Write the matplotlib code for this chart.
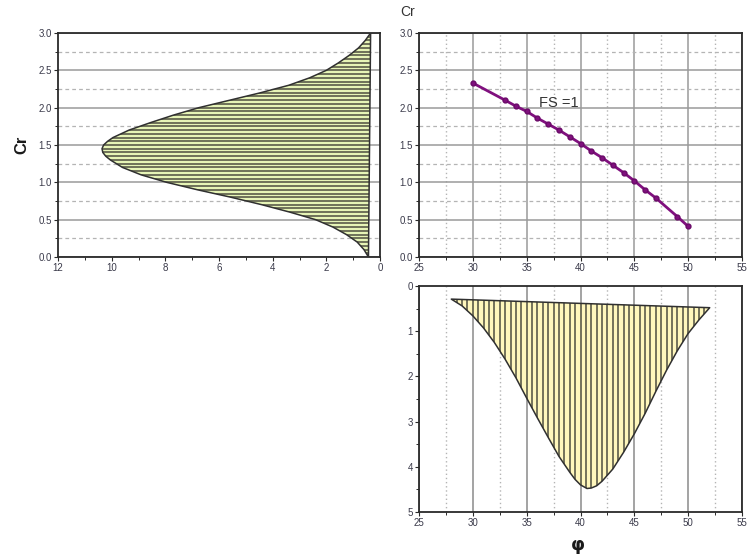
import numpy as np
import matplotlib
matplotlib.use("Agg")
import matplotlib.pyplot as plt
from matplotlib.patches import Polygon
from matplotlib.ticker import MultipleLocator, FormatStrFormatter

# ---- data ----
# Left panel: distribution of Cr (horizontal width vs. Cr)
cr_levels = [0.0, 0.1, 0.2, 0.3, 0.4, 0.5, 0.6, 0.7, 0.8, 0.9, 1.0, 1.1, 1.2,
             1.3, 1.35, 1.4, 1.45, 1.5, 1.55, 1.6, 1.7, 1.8, 1.9, 2.0, 2.1,
             2.2, 2.3, 2.4, 2.5, 2.6, 2.7, 2.8, 2.9, 3.0]
cr_density = [0.43, 0.6, 0.85, 1.25, 1.75, 2.4, 3.35, 4.4, 5.55, 6.8, 7.95,
              8.9, 9.6, 10.05, 10.22, 10.33, 10.36, 10.3, 10.15, 9.95, 9.35,
              8.55, 7.7, 6.75, 5.6, 4.45, 3.4, 2.62, 2.0, 1.55, 1.15, 0.8,
              0.55, 0.35]

# Top-right panel: FS = 1 curve, Cr vs. phi
phi_fs = [30, 33, 34, 35, 36, 37, 38, 39, 40, 41, 42, 43, 44, 45, 46, 47, 49, 50]
cr_fs = [2.33, 2.10, 2.02, 1.95, 1.86, 1.78, 1.70, 1.61, 1.52, 1.42, 1.33,
         1.23, 1.13, 1.02, 0.90, 0.79, 0.54, 0.41]
fs_label = "FS =1"

# Bottom-right panel: distribution of phi (depth vs. phi, axis downward)
phi_levels = [28.0, 29, 30, 31, 32, 33, 34, 35, 36, 37, 38, 39, 39.5, 40,
              40.6, 41, 41.5, 42, 43, 44, 45, 46, 47, 48, 49, 50, 51, 52]
phi_density = [0.29, 0.44, 0.66, 0.93, 1.25, 1.62, 2.03, 2.48, 2.92, 3.35,
               3.77, 4.12, 4.28, 4.40, 4.48, 4.47, 4.42, 4.32, 4.05, 3.68,
               3.27, 2.82, 2.33, 1.86, 1.43, 1.05, 0.75, 0.48]

# ---- styling ----
plt.rcParams['font.family'] = ['Liberation Sans', 'DejaVu Sans']
TICK_COLOR = '#3a3a4a'
SPINE_COLOR = '#2a2a2a'
MAJOR_GRID = '#9a9a9a'
MINOR_GRID = '#b4b4b4'
HATCH_COLOR = '#4e4e40'

fig = plt.figure(figsize=(7.55, 5.56), dpi=100)
fig.patch.set_facecolor('white')

W, H = 755.0, 556.0
def axes_px(x0, y0, x1, y1):
    return fig.add_axes([x0 / W, 1 - y1 / H, (x1 - x0) / W, (y1 - y0) / H])

ax_l = axes_px(58, 33, 380, 257)
ax_tr = axes_px(419, 33, 742, 257)
ax_br = axes_px(419, 286, 742, 512)

def style_axes(ax):
    for s in ax.spines.values():
        s.set_color(SPINE_COLOR)
        s.set_linewidth(1.3)
    ax.tick_params(which='major', direction='out', length=3, width=0.8,
                   colors=SPINE_COLOR, labelcolor=TICK_COLOR, labelsize=7,
                   pad=1.5)
    ax.tick_params(which='minor', direction='out', length=2, width=0.7,
                   colors=SPINE_COLOR)
    ax.set_axisbelow(True)

# ---- left panel ----
ax = ax_l
style_axes(ax)
ax.set_xlim(12, 0)
ax.set_ylim(0, 3)
ax.xaxis.set_major_locator(MultipleLocator(2))
ax.xaxis.set_minor_locator(MultipleLocator(1))
ax.yaxis.set_major_locator(MultipleLocator(0.5))
ax.yaxis.set_minor_locator(MultipleLocator(0.25))
ax.yaxis.set_major_formatter(FormatStrFormatter('%.1f'))
ax.grid(which='major', axis='y', color=MAJOR_GRID, lw=1.1, ls='-')
ax.grid(which='minor', axis='y', color=MINOR_GRID, lw=0.9, ls=(0, (3, 2.5)))
poly = Polygon(np.column_stack([cr_density, cr_levels]), closed=True,
               facecolor='#e6f4b6', edgecolor='none', zorder=2)
ax.add_patch(poly)
hl = ax.hlines(np.arange(0, 3.0001, 0.05), 0, 12, colors=HATCH_COLOR,
               lw=1.1, zorder=3)
hl.set_clip_path(poly)
ax.add_patch(Polygon(np.column_stack([cr_density, cr_levels]), closed=True,
                     fill=False, edgecolor='#303030', lw=1.1, zorder=4,
                     joinstyle='round'))
fig.text(22 / W, 1 - 145 / H, 'Cr', fontsize=12, fontweight='bold',
         rotation=90, ha='center', va='center', color='#1a1a1a')

# ---- top-right panel ----
ax = ax_tr
style_axes(ax)
ax.set_xlim(25, 55)
ax.set_ylim(0, 3)
ax.xaxis.set_major_locator(MultipleLocator(5))
ax.xaxis.set_minor_locator(MultipleLocator(2.5))
ax.yaxis.set_major_locator(MultipleLocator(0.5))
ax.yaxis.set_minor_locator(MultipleLocator(0.25))
ax.yaxis.set_major_formatter(FormatStrFormatter('%.1f'))
ax.grid(which='major', color=MAJOR_GRID, lw=1.1, ls='-')
ax.grid(which='minor', axis='y', color=MINOR_GRID, lw=0.9, ls=(0, (3, 2.5)))
ax.grid(which='minor', axis='x', color=MINOR_GRID, lw=1.0, ls=(0, (1, 2)))
ax.plot(phi_fs, cr_fs, color='#80107e', lw=2.0, marker='o', ms=3.5,
        mec='#6a0a68', mfc='#80107e', zorder=3)
ax.text(38.0, 2.06, fs_label, fontsize=10.5, color='#333333',
        ha='center', va='center')
fig.text(400 / W, 1 - 12 / H, 'Cr', fontsize=10, color='#333333',
         ha='left', va='center')

# ---- bottom-right panel ----
ax = ax_br
style_axes(ax)
ax.set_xlim(25, 55)
ax.set_ylim(5, 0)
ax.xaxis.set_major_locator(MultipleLocator(5))
ax.xaxis.set_minor_locator(MultipleLocator(2.5))
ax.yaxis.set_major_locator(MultipleLocator(1))
ax.yaxis.set_minor_locator(MultipleLocator(0.5))
ax.grid(which='major', axis='x', color='#8a8a8a', lw=1.1, ls='-')
ax.grid(which='minor', axis='x', color=MINOR_GRID, lw=1.0, ls=(0, (1, 2)))
poly2 = Polygon(np.column_stack([phi_levels, phi_density]), closed=True,
                facecolor='#fff7bc', edgecolor='none', zorder=2)
ax.add_patch(poly2)
vl = ax.vlines(np.arange(28, 52.0001, 0.5), 0, 5, colors=HATCH_COLOR,
               lw=1.1, zorder=3)
vl.set_clip_path(poly2)
ax.add_patch(Polygon(np.column_stack([phi_levels, phi_density]), closed=True,
                     fill=False, edgecolor='#303030', lw=1.1, zorder=4,
                     joinstyle='round'))
fig.text(578 / W, 1 - 545 / H, 'φ', fontsize=13, fontweight='bold',
         ha='center', va='center', family=['DejaVu Sans'], color='#1a1a1a')

fig.savefig('out.png', dpi=100, facecolor='white')
